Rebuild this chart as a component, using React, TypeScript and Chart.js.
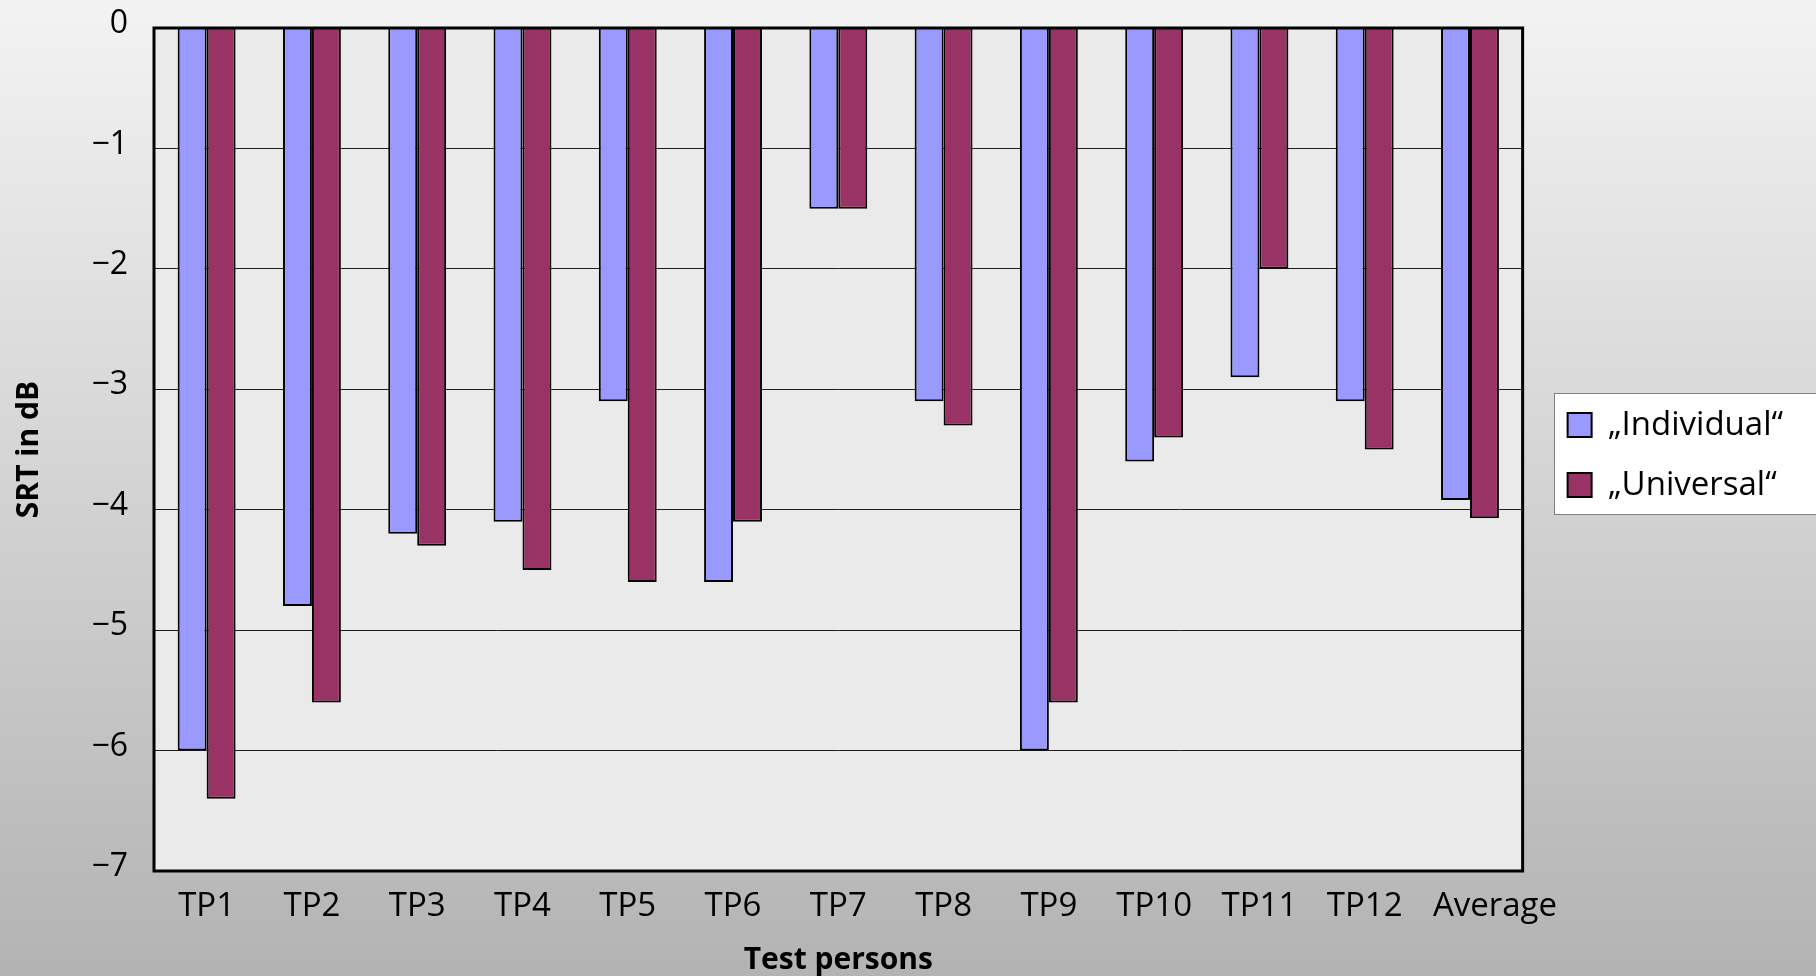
import React, { useEffect, useRef } from 'react';
import { Chart, registerables } from 'chart.js';

Chart.register(...registerables);

// Speech reception thresholds per test person
const categories = ['TP1', 'TP2', 'TP3', 'TP4', 'TP5', 'TP6', 'TP7', 'TP8', 'TP9', 'TP10', 'TP11', 'TP12', 'Average'];
const individualSrt = [-6.0, -4.8, -4.2, -4.1, -3.1, -4.6, -1.5, -3.1, -6.0, -3.6, -2.9, -3.1, -3.92];
const universalSrt = [-6.4, -5.6, -4.3, -4.5, -4.6, -4.1, -1.5, -3.3, -5.6, -3.4, -2.0, -3.5, -4.07];
const seriesNames = ['„Individual“', '„Universal“'];
const yTickValues = [0, -1, -2, -3, -4, -5, -6, -7];
const yTickLabels = ['0', '−1', '−2', '−3', '−4', '−5', '−6', '−7'];
const xAxisTitle = 'Test persons';
const yAxisTitle = 'SRT in dB';

const FONT = "'Open Sans', 'DejaVu Sans', sans-serif";
const W = 1816;
const H = 976;
// The long "Average" label sits a little to the right of its bar pair
const LAST_LABEL_SHIFT = 25;

// Page gradient, grey plot background and the white legend panel
const backdrop = {
  id: 'backdrop',
  beforeDraw(chart: any) {
    const { ctx, width, height, chartArea } = chart;
    ctx.save();
    const g = ctx.createLinearGradient(0, 0, 0, height);
    g.addColorStop(0, '#f3f3f3');
    g.addColorStop(1, '#b3b3b3');
    ctx.fillStyle = g;
    ctx.fillRect(0, 0, width, height);

    ctx.fillStyle = '#eaeaea';
    ctx.fillRect(chartArea.left, chartArea.top, chartArea.right - chartArea.left, chartArea.bottom - chartArea.top);

    const boxes = chart.legend && chart.legend.legendHitBoxes;
    if (boxes && boxes.length) {
      const first = boxes[0];
      const last = boxes[boxes.length - 1];
      const x = Math.round(first.left - 14);
      const y = Math.round(first.top - 16);
      const b = Math.round(last.top + last.height + 12);
      ctx.fillStyle = '#ffffff';
      ctx.fillRect(x, y, width - x + 10, b - y);
      ctx.strokeStyle = '#808080';
      ctx.lineWidth = 1;
      ctx.strokeRect(x + 0.5, y + 0.5, width - x + 10, b - y);
    }
    ctx.restore();

    // nudge the last category label
    const xs = chart.scales.x;
    if (xs && typeof xs.getLabelItems === 'function') {
      const items = xs.getLabelItems();
      const lastItem = items && items[items.length - 1];
      if (lastItem && !lastItem.__shifted) {
        lastItem.options.translation[0] += LAST_LABEL_SHIFT;
        lastItem.__shifted = true;
      }
    }
  },
};

// Heavy black frame around the plot area
const frame = {
  id: 'frame',
  afterDatasetsDraw(chart: any) {
    const { ctx, chartArea } = chart;
    ctx.save();
    ctx.strokeStyle = '#000';
    ctx.lineWidth = 3;
    ctx.strokeRect(chartArea.left, chartArea.top, chartArea.right - chartArea.left, chartArea.bottom - chartArea.top);
    ctx.restore();
  },
};

export default function App() {
  const canvasRef = useRef<HTMLCanvasElement | null>(null);

  useEffect(() => {
    const canvas = canvasRef.current;
    if (!canvas) return;
    Chart.defaults.font.family = FONT;
    Chart.defaults.color = '#000';

    const chart = new Chart(canvas, {
      type: 'bar',
      data: {
        labels: categories,
        datasets: [
          {
            label: seriesNames[0],
            data: individualSrt,
            backgroundColor: '#9999ff',
            borderColor: '#000',
            borderWidth: 2,
            borderSkipped: 'start',
          },
          {
            label: seriesNames[1],
            data: universalSrt,
            backgroundColor: '#993366',
            borderColor: '#000',
            borderWidth: 2,
            borderSkipped: 'start',
          },
        ],
      },
      options: {
        responsive: false,
        animation: false,
        devicePixelRatio: 1,
        layout: { padding: { top: 28, right: 23, bottom: 0, left: 0 } },
        datasets: {
          bar: { categoryPercentage: 0.55, barPercentage: 1.0 },
        },
        plugins: {
          tooltip: { enabled: false },
          legend: {
            position: 'right',
            fullSize: false,
            align: 'center',
            title: { display: true, text: '', font: { size: 1 }, padding: 5 },
            labels: {
              font: { size: 33, family: FONT },
              color: '#000',
              boxWidth: 24,
              boxHeight: 24,
              padding: 27,
            },
          },
        },
        scales: {
          x: {
            grid: { display: false },
            border: { display: false },
            ticks: {
              font: { size: 33, family: FONT },
              color: '#000',
              padding: 8,
              maxRotation: 0,
              autoSkip: false,
            },
            title: {
              display: true,
              text: xAxisTitle,
              color: '#000',
              font: { size: 30, weight: 'bold', family: FONT },
              padding: { top: 0, bottom: -2 },
            },
            afterFit: (s: any) => {
              s.height = 105;
            },
          },
          y: {
            min: -7,
            max: 0,
            grid: {
              color: '#1e1e1e',
              lineWidth: 1,
              drawTicks: true,
              tickLength: 26,
              tickColor: 'rgba(0,0,0,0)',
            },
            border: { display: false },
            ticks: {
              stepSize: 1,
              font: { size: 32, family: FONT },
              color: '#000',
              padding: 0,
              labelOffset: -4,
              callback: (v: any) => {
                const i = yTickValues.indexOf(Number(v));
                return i >= 0 ? yTickLabels[i] : '';
              },
            },
            title: {
              display: true,
              text: yAxisTitle,
              color: '#000',
              font: { size: 30, weight: 'bold', family: FONT },
              padding: { top: 11, bottom: 0 },
            },
            afterFit: (s: any) => {
              s.width = 154;
            },
          },
          gap: {
            type: 'linear',
            axis: 'y',
            position: 'right',
            display: true,
            grid: { display: false },
            border: { display: false },
            ticks: { display: false },
            afterFit: (s: any) => {
              s.width = 18;
            },
          },
        },
      } as any,
      plugins: [backdrop, frame],
    });

    return () => chart.destroy();
  }, []);

  return (
    <div style={{ position: 'fixed', left: 0, top: 0, width: W, height: H, overflow: 'hidden' }}>
      <canvas ref={canvasRef} width={W} height={H} style={{ display: 'block' }} />
    </div>
  );
}
